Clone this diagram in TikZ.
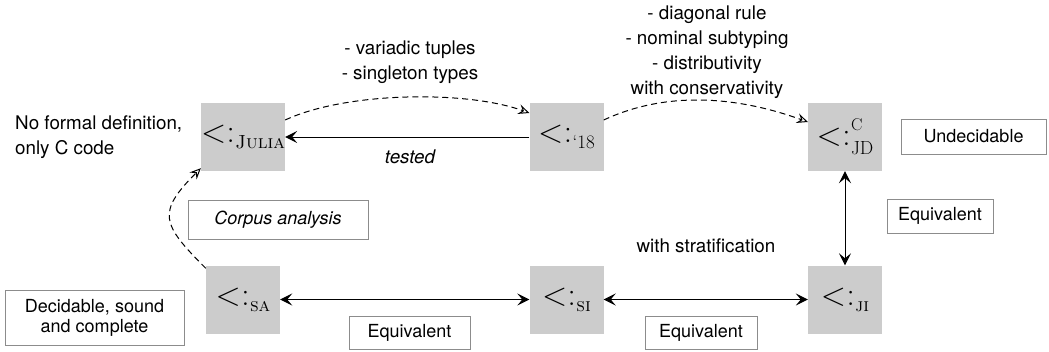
\documentclass[tikz,border=0pt]{standalone}
\usepackage{fontspec}
\setsansfont{TeX Gyre Heros}
\usetikzlibrary{arrows.meta}
\newcommand{\relsym}{{\fontsize{33}{36}\selectfont<\kern0.5pt:}\kern0.5pt}
\newcommand{\subrel}[1]{\relsym\raisebox{-6pt}{\fontsize{19}{20}\selectfont #1}}
\newcommand{\subsuprel}[2]{\relsym\makebox[0pt][l]{\raisebox{15pt}{\fontsize{17}{18}\selectfont #2}}\raisebox{-9pt}{\fontsize{19}{20}\selectfont #1}}
\begin{document}
\begin{tikzpicture}[x=1pt,y=-1pt,
  subt/.style={fill=black!20, minimum width=74pt, minimum height=68pt, inner sep=0pt},
  lbl/.style={font=\sffamily\fontsize{18.8}{25}\selectfont, align=center, inner sep=0pt},
  tag/.style={draw=black!45, line width=1pt, fill=white, font=\sffamily\fontsize{18}{20}\selectfont, align=center, inner sep=0pt},
  sol/.style={line width=1pt, -{Stealth[length=12pt,width=12pt,inset=5pt]}},
  solboth/.style={line width=1pt, {Stealth[length=12pt,width=12pt,inset=5pt]}-{Stealth[length=12pt,width=12pt,inset=5pt]}},
  dsh/.style={line width=1pt, dash pattern=on 6pt off 4pt, -{Stealth[open,length=11pt,width=10pt,inset=4pt]}}
]
\useasboundingbox (0,0) rectangle (1049,351);

% subtyping relation boxes
\node[subt] (julia) at (243,137) {\subrel{\textsc{Julia}}};
\node[subt] (c18) at (566.5,137) {\subrel{\textquoteleft 18}};
\node[subt] (jd) at (845,137) {\subsuprel{JD}{C}};
\node[subt] (sa) at (243,299.5) {\subrel{\textsc{sa}}};
\node[subt] (si) at (566.5,299.5) {\subrel{\textsc{si}}};
\node[subt] (ji) at (845,299.5) {\subrel{\textsc{ji}}};

% free labels
\node[lbl, align=left, anchor=west] (noformal) at (15,137) {No formal definition,\\only C code};
\node[lbl] (variadic) at (410,62) {- variadic tuples\\- singleton types};
\node[lbl] (diag) at (707,52) {- diagonal rule\\- nominal subtyping\\- distributivity\\with conservativity};
\node[lbl, font=\sffamily\itshape\fontsize{18.8}{25}\selectfont] (tested) at (410,157) {tested};
\node[lbl] (strat) at (706,246) {with stratification};

% boxed tags
\node[tag, minimum width=145pt, minimum height=35pt] (undec) at (973.5,136.5) {Undecidable};
\node[tag, minimum width=106pt, minimum height=34pt] (eqr) at (940,216) {Equivalent};
\node[tag, minimum width=180pt, minimum height=39pt, font=\sffamily\itshape\fontsize{18}{20}\selectfont] (corpus) at (278,219.5) {Corpus analysis};
\node[tag, minimum width=121pt, minimum height=33pt] (eqa) at (409.5,332.5) {Equivalent};
\node[tag, minimum width=112pt, minimum height=33pt] (eqb) at (701,332.5) {Equivalent};
\node[tag, minimum width=179pt, minimum height=55pt] (decid) at (94.5,317.5) {Decidable, sound\\and complete};

% connectors
\draw[sol] (c18) -- (julia);
\draw[dsh] ([yshift=17pt]julia.east) to[out=25,in=160,looseness=0.7] ([yshift=24pt]c18.west);
\draw[dsh] ([yshift=17pt]c18.east) to[out=25,in=160,looseness=0.9] ([yshift=15pt]jd.west);
\draw[dsh] ([yshift=-3pt]sa.north west) to[out=135,in=225,looseness=1.6] ([yshift=3pt]julia.south west);
\draw[solboth] (jd) -- (ji);
\draw[solboth] (sa) -- (si);
\draw[solboth] (si) -- (ji);
\end{tikzpicture}
\end{document}
